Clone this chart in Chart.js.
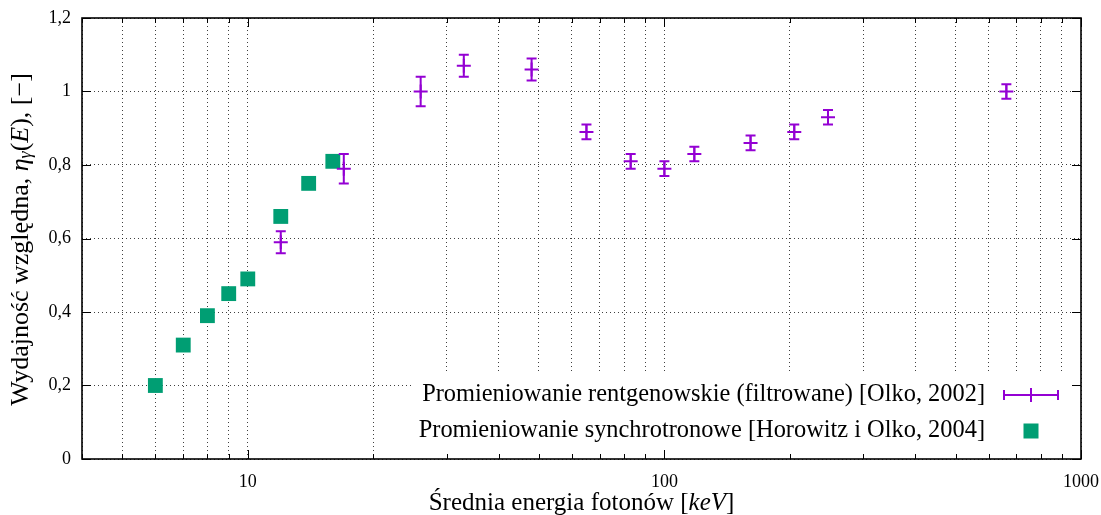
<!DOCTYPE html>
<html>
<head>
<meta charset="utf-8">
<script src="https://cdn.jsdelivr.net/npm/chart.js@4.4.0/dist/chart.umd.min.js"></script>
<style>
  html, body { margin: 0; padding: 0; background: #fff; }
  #wrap { width: 1101px; height: 515px; }
</style>
</head>
<body>
<div id="wrap"><canvas id="chart"></canvas></div>
<script>
// Synchrotron radiation [Horowitz i Olko, 2004]
const synchEnergy = [6, 7, 8, 9, 10, 12, 14, 16];
const synchYield = [0.20, 0.31, 0.39, 0.45, 0.49, 0.66, 0.75, 0.81];

// Filtered X-rays [Olko, 2002], with error bars
const xrayEnergy = [12, 17, 26, 33, 48, 65, 83, 100, 118, 161, 205, 247, 662];
const xrayYield = [0.59, 0.79, 1.00, 1.07, 1.06, 0.89, 0.81, 0.79, 0.83, 0.86, 0.89, 0.93, 1.00];
const xrayErr = [0.03, 0.04, 0.04, 0.03, 0.03, 0.02, 0.02, 0.02, 0.02, 0.02, 0.02, 0.02, 0.02];

const yTicks = [0, 0.2, 0.4, 0.6, 0.8, 1, 1.2];
const xLabelTicks = [10, 100, 1000];
const xMin = 4, xMax = 1000;

const seriesNames = [
  'Promieniowanie rentgenowskie (filtrowane) [Olko, 2002]',
  'Promieniowanie synchrotronowe [Horowitz i Olko, 2004]'
];

const purple = '#9400d3';
const green = '#009e73';
const serif = '"Liberation Serif", "Times New Roman", serif';

// 1..9 x 10^n between min and max, for the log grid
function logGridValues(min, max) {
  const vals = [];
  for (let d = 1; d <= max; d *= 10) {
    for (let k = 1; k <= 9; k++) {
      const v = k * d;
      if (v >= min && v <= max) vals.push(v);
    }
  }
  if (!vals.includes(max)) vals.push(max);
  return vals;
}

// text made of plain / italic / subscript pieces, centred on x
function drawRich(c, parts, x, y, size) {
  const fonts = {
    n: size + 'px ' + serif,
    i: 'italic ' + size + 'px ' + serif,
    s: 'italic ' + Math.round(size * 0.7) + 'px ' + serif
  };
  let w = 0;
  parts.forEach(function(p) { c.font = fonts[p[1]]; w += c.measureText(p[0]).width; });
  let cx = x - w / 2;
  c.textAlign = 'left';
  c.textBaseline = 'middle';
  parts.forEach(function(p) {
    c.font = fonts[p[1]];
    c.fillText(p[0], cx, p[1] === 's' ? y + 5 : y);
    cx += c.measureText(p[0]).width;
  });
}

const errorBars = {
  id: 'errorBars',
  afterDatasetsDraw(chart) {
    const c = chart.ctx;
    const ys = chart.scales.y;
    const meta = chart.getDatasetMeta(0);
    c.save();
    c.strokeStyle = purple;
    c.lineWidth = 2;
    meta.data.forEach(function(pt, i) {
      const top = ys.getPixelForValue(xrayYield[i] + xrayErr[i]);
      const bot = ys.getPixelForValue(xrayYield[i] - xrayErr[i]);
      c.beginPath();
      c.moveTo(pt.x, top); c.lineTo(pt.x, bot);
      c.moveTo(pt.x - 5, top); c.lineTo(pt.x + 5, top);
      c.moveTo(pt.x - 5, bot); c.lineTo(pt.x + 5, bot);
      c.stroke();
    });
    c.restore();
  }
};

const innerLegend = {
  id: 'innerLegend',
  afterDatasetsDraw(chart) {
    const c = chart.ctx;
    const a = chart.chartArea;
    c.save();
    c.fillStyle = '#fff';
    c.fillRect(a.right - 668, a.bottom - 85, 668, 85);

    c.fillStyle = '#000';
    c.font = '24.4px ' + serif;
    c.textAlign = 'right';
    c.textBaseline = 'middle';
    const tx = a.right - 96;
    const r1 = a.bottom - 64, r2 = a.bottom - 28;
    c.fillText(seriesNames[0], tx, r1);
    c.fillText(seriesNames[1], tx, r2);

    const sx = a.right - 50;
    c.strokeStyle = purple;
    c.lineWidth = 2;
    c.beginPath();
    c.moveTo(sx - 27, r1); c.lineTo(sx + 27, r1);
    c.moveTo(sx - 27, r1 - 5); c.lineTo(sx - 27, r1 + 5);
    c.moveTo(sx + 27, r1 - 5); c.lineTo(sx + 27, r1 + 5);
    c.moveTo(sx, r1 - 7); c.lineTo(sx, r1 + 7);
    c.stroke();

    c.fillStyle = green;
    c.fillRect(sx - 7.5, r2 - 7.5, 15, 15);
    c.restore();
  }
};

// frame, inward tick marks and the axis titles
const frameAndTitles = {
  id: 'frameAndTitles',
  afterDraw(chart) {
    const c = chart.ctx;
    const a = chart.chartArea;
    const xs = chart.scales.x, ys = chart.scales.y;
    c.save();
    c.strokeStyle = '#000';
    c.lineWidth = 1;
    c.beginPath();
    xs.ticks.forEach(function(t) {
      const px = Math.round(xs.getPixelForValue(t.value)) + 0.5;
      const len = xLabelTicks.includes(t.value) ? 9 : 5;
      c.moveTo(px, a.bottom); c.lineTo(px, a.bottom - len);
      c.moveTo(px, a.top); c.lineTo(px, a.top + len);
    });
    yTicks.forEach(function(v) {
      const py = Math.round(ys.getPixelForValue(v)) + 0.5;
      c.moveTo(a.left, py); c.lineTo(a.left + 9, py);
      c.moveTo(a.right, py); c.lineTo(a.right - 9, py);
    });
    c.stroke();

    c.lineWidth = 1.6;
    c.strokeRect(a.left, a.top, a.right - a.left, a.bottom - a.top);

    c.fillStyle = '#000';
    drawRich(c, [['Średnia energia fotonów [', 'n'], ['keV', 'i'], [']', 'n']],
      (a.left + a.right) / 2, a.bottom + 44, 25);

    c.translate(21, (a.top + a.bottom) / 2 + 1);
    c.rotate(-Math.PI / 2);
    drawRich(c, [['Wydajność względna, ', 'n'], ['η', 'i'], ['γ', 's'], ['(', 'n'], ['E', 'i'],
      ['), [−]', 'n']], 0, 0, 26);
    c.restore();
  }
};

const ctx = document.getElementById('chart').getContext('2d');
new Chart(ctx, {
  type: 'scatter',
  data: {
    datasets: [
      {
        label: seriesNames[0],
        data: xrayEnergy.map(function(e, i) { return { x: e, y: xrayYield[i] }; }),
        pointStyle: 'cross',
        pointRadius: 7,
        borderColor: purple,
        backgroundColor: purple,
        borderWidth: 2
      },
      {
        label: seriesNames[1],
        data: synchEnergy.map(function(e, i) { return { x: e, y: synchYield[i] }; }),
        pointStyle: 'rect',
        pointRadius: 10.5,
        borderWidth: 0,
        borderColor: green,
        backgroundColor: green
      }
    ]
  },
  options: {
    responsive: true,
    maintainAspectRatio: false,
    devicePixelRatio: 1,
    animation: false,
    events: [],
    layout: { padding: { left: 0, top: 18, right: 20, bottom: 0 } },
    plugins: { legend: { display: false }, tooltip: { enabled: false } },
    scales: {
      x: {
        type: 'logarithmic',
        min: xMin,
        max: xMax,
        afterBuildTicks: function(scale) {
          scale.ticks = logGridValues(xMin, xMax).map(function(v) { return { value: v }; });
        },
        afterFit: function(scale) {
          scale.height = 56;
          scale.paddingLeft = 0;
          scale.paddingRight = 0;
        },
        grid: { color: 'rgba(0,0,0,0.75)', lineWidth: 1, drawTicks: false },
        border: { display: false, dash: [1, 3] },
        ticks: {
          autoSkip: false,
          maxRotation: 0,
          padding: 12,
          color: '#000',
          font: { family: serif, size: 18 },
          callback: function(v) { return xLabelTicks.includes(v) ? String(v) : ''; }
        }
      },
      y: {
        min: 0,
        max: 1.2,
        afterBuildTicks: function(scale) {
          scale.ticks = yTicks.map(function(v) { return { value: v }; });
        },
        afterFit: function(scale) {
          scale.width = 82;
          scale.paddingTop = 0;
          scale.paddingBottom = 0;
        },
        grid: { color: 'rgba(0,0,0,0.75)', lineWidth: 1, drawTicks: false },
        border: { display: false, dash: [1, 3] },
        ticks: {
          padding: 11,
          color: '#000',
          font: { family: serif, size: 18 },
          callback: function(v) { return String(v).replace('.', ','); }
        }
      }
    }
  },
  plugins: [errorBars, innerLegend, frameAndTitles]
});
</script>
</body>
</html>
